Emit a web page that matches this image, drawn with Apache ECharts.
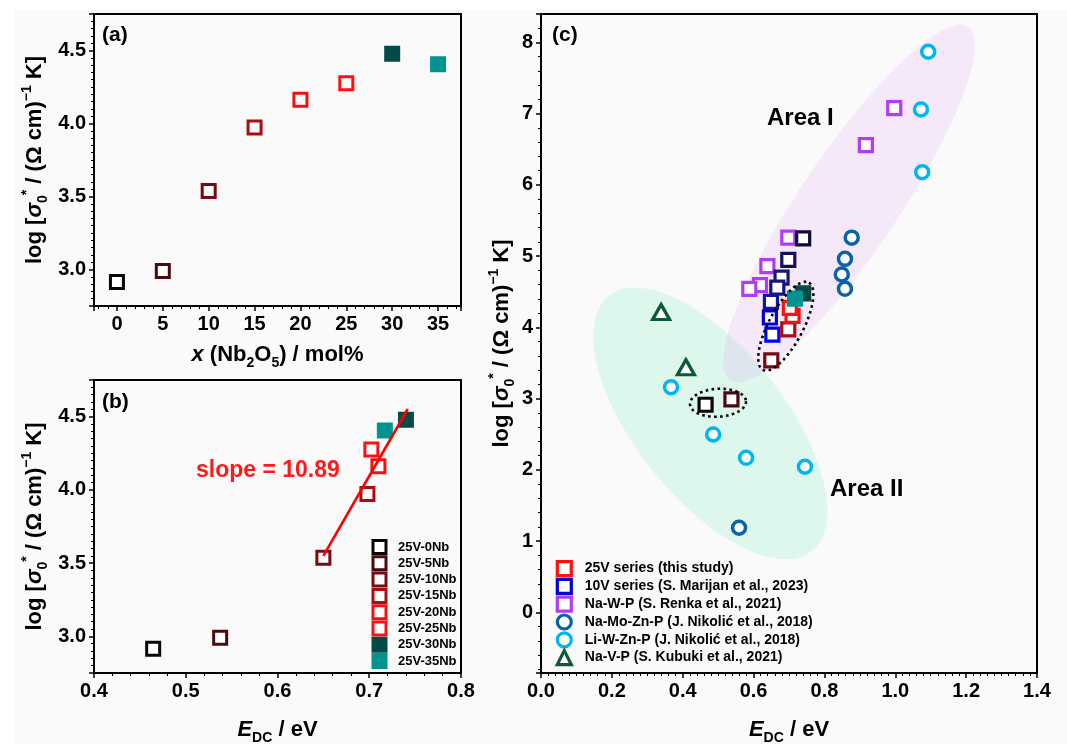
<!DOCTYPE html>
<html>
<head>
<meta charset="utf-8">
<script src="https://cdn.jsdelivr.net/npm/echarts@6/dist/echarts.min.js"></script>
<style>html,body{margin:0;padding:0;background:#fff}#chart{width:1067px;height:744px}</style>
</head>
<body>
<div id="chart"></div>
<script>
// ---------------- data ----------------
const sampleNames = ['25V-0Nb','25V-5Nb','25V-10Nb','25V-15Nb','25V-20Nb','25V-25Nb','25V-30Nb','25V-35Nb'];
const nb2o5 = [0, 5, 10, 15, 20, 25, 30, 35];
const logSigma25V = [2.915, 2.99, 3.537, 3.972, 4.162, 4.276, 4.478, 4.405];
const edc25V = [0.4645, 0.5375, 0.650, 0.698, 0.710, 0.7023, 0.740, 0.717];
const fitLine = [[0.650, 3.55], [0.742, 4.552]];

const edc10V = [0.740, 0.698, 0.679, 0.667, 0.649, 0.646, 0.653];
const logSigma10V = [5.25, 4.95, 4.70, 4.56, 4.36, 4.14, 3.90];

const edcNaWP = [0.997, 0.917, 0.698, 0.639, 0.618, 0.588];
const logSigmaNaWP = [7.08, 6.56, 5.26, 4.86, 4.594, 4.543];

const edcNaMoZnP = [0.877, 0.858, 0.849, 0.858, 0.559];
const logSigmaNaMoZnP = [5.26, 4.964, 4.744, 4.543, 1.189];

const edcLiWZnP = [1.093, 1.0725, 1.076, 0.367, 0.486, 0.579, 0.745];
const logSigmaLiWZnP = [7.87, 7.06, 6.18, 3.162, 2.498, 2.171, 2.045];

const edcNaVP = [0.339, 0.409];
const logSigmaNaVP = [4.217, 3.441];

// ellipses: [centerX, centerY, majorEndX, majorEndY, minorEndX, minorEndY] (data units)
const areaEllipses = [
  [0.4778, 2.653, 0.7643, 0.862, 0.3133, 2.001],   // Area II
  [0.8693, 5.740, 1.2055, 8.219, 0.9839, 5.356]    // Area I
];
const clusterEllipses = [
  [0.691, 4.018, 0.7563, 4.629, 0.7332, 3.897],
  [0.4996, 2.943, 0.5786, 2.964, 0.5016, 2.747]
];

const xTicksA = [0, 5, 10, 15, 20, 25, 30, 35];
const yTicksAB = [3.0, 3.5, 4.0, 4.5];
const xTicksB = [0.4, 0.5, 0.6, 0.7, 0.8];
const xTicksC = [0.0, 0.2, 0.4, 0.6, 0.8, 1.0, 1.2, 1.4];
const yTicksC = [0, 1, 2, 3, 4, 5, 6, 7, 8];

// ---------------- styles ----------------
const FONT = '"Liberation Sans", Arial, Helvetica, sans-serif';
const colors25V = ['#0a0606', '#4a0a0e', '#780a10', '#ad0c10', '#ee1212', '#ff1010', '#044a46', '#00938f'];
const filled25V = [false, false, false, false, false, false, true, true];
const colors10V = ['#0c0c38', '#12125c', '#18186e', '#151582', '#1414a0', '#0000d8', '#0000ff'];
const areaFills = ['rgba(120,235,190,0.22)', 'rgba(225,160,240,0.2)'];

function tickFmt(ticks, digits) {
  return function (v) {
    return ticks.some(t => Math.abs(t - v) < 1e-7) ? v.toFixed(digits) : '';
  };
}

const rich = {
  n: {fontFamily: FONT, fontWeight: 'bold', fontSize: 22, color: '#000', lineHeight: 30},
  i: {fontFamily: FONT, fontWeight: 'bold', fontStyle: 'italic', fontSize: 22, color: '#000', lineHeight: 30},
  sub: {fontFamily: FONT, fontWeight: 'bold', fontSize: 14, color: '#000', verticalAlign: 'bottom', lineHeight: 16},
  sup: {fontFamily: FONT, fontWeight: 'bold', fontSize: 14, color: '#000', verticalAlign: 'top', lineHeight: 16}
};
const yName = '{n|log [}{i|σ}{sub|0}{sup|*}{n| / (Ω cm)}{sup|−1}{n| K]}';
const xNameA = '{i|x}{n| (Nb}{sub|2}{n|O}{sub|5}{n|) / mol%}';
const xNameE = '{i|E}{sub|DC}{n| / eV}';

function minor(n) {
  return {show: true, splitNumber: n, length: 3, lineStyle: {color: '#000', width: 1}};
}
function axis(o) {
  return Object.assign({
    type: 'value',
    nameLocation: 'middle',
    nameTextStyle: {rich: rich},
    axisLine: {show: true, onZero: false, lineStyle: {color: '#000', width: 2}},
    axisTick: {show: true, inside: false, length: 5, lineStyle: {color: '#000', width: 1.5}},
    splitLine: {show: false},
    minorSplitLine: {show: false}
  }, o);
}
function labelStyle(fmt) {
  return {color: '#000', fontFamily: FONT, fontWeight: 'bold', fontSize: 20, margin: 8, formatter: fmt};
}

function ellipseRender(dotted) {
  return function (params, api) {
    const c = api.coord([api.value(0), api.value(1)]);
    const p = api.coord([api.value(2), api.value(3)]);
    const q = api.coord([api.value(4), api.value(5)]);
    const ax = p[0] - c[0], ay = p[1] - c[1], bx = q[0] - c[0], by = q[1] - c[1];
    const pts = [];
    const N = 240;
    for (let k = 0; k < N; k++) {
      const t = k / N * 2 * Math.PI;
      pts.push([c[0] + ax * Math.cos(t) + bx * Math.sin(t), c[1] + ay * Math.cos(t) + by * Math.sin(t)]);
    }
    return {
      type: 'polygon',
      shape: {points: pts},
      style: dotted
        ? {fill: 'none', stroke: '#000', lineWidth: 2.6, lineDash: [2.6, 3.4]}
        : {fill: areaFills[params.dataIndex], stroke: 'none'}
    };
  };
}

function xy(xs, ys) { return xs.map((x, i) => [x, ys[i]]); }
function sq(color, filled, bw) {
  return {color: filled ? color : '#fff', borderColor: color, borderWidth: bw, opacity: 1};
}

const series = [];

// panel (a)
series.push({
  type: 'scatter', name: 'a-series', xAxisIndex: 0, yAxisIndex: 0,
  symbol: 'rect', symbolSize: 13,
  data: nb2o5.map((x, i) => ({value: [x, logSigma25V[i]], itemStyle: sq(colors25V[i], filled25V[i], 3)}))
});

// panel (b)
sampleNames.forEach((nm, i) => {
  series.push({
    type: 'scatter', name: nm, xAxisIndex: 1, yAxisIndex: 1,
    symbol: 'rect', symbolSize: 13,
    itemStyle: sq(colors25V[i], filled25V[i], 3),
    data: [[edc25V[i], logSigma25V[i]]]
  });
});
series.push({
  type: 'line', name: 'fit', xAxisIndex: 1, yAxisIndex: 1,
  showSymbol: false, symbol: 'none', z: 4,
  lineStyle: {color: '#ff0000', width: 2.6},
  data: fitLine
});

// panel (c)
series.push({
  type: 'custom', name: 'areas', xAxisIndex: 2, yAxisIndex: 2, z: 1,
  renderItem: ellipseRender(false), data: areaEllipses, silent: true
});
series.push({
  type: 'scatter', name: 'Na-V-P (S. Kubuki et al., 2021)', xAxisIndex: 2, yAxisIndex: 2,
  symbol: 'triangle', symbolSize: [17, 15],
  itemStyle: {color: '#fff', borderColor: '#0b5a36', borderWidth: 3.2, opacity: 1},
  data: xy(edcNaVP, logSigmaNaVP)
});
series.push({
  type: 'scatter', name: 'Li-W-Zn-P (J. Nikolić et al., 2018)', xAxisIndex: 2, yAxisIndex: 2,
  symbol: 'circle', symbolSize: 13,
  itemStyle: {color: '#fff', borderColor: '#00b6f2', borderWidth: 3.5, opacity: 1},
  data: xy(edcLiWZnP, logSigmaLiWZnP)
});
series.push({
  type: 'scatter', name: 'Na-Mo-Zn-P (J. Nikolić et al., 2018)', xAxisIndex: 2, yAxisIndex: 2,
  symbol: 'circle', symbolSize: 13,
  itemStyle: {color: '#fff', borderColor: '#0a62a8', borderWidth: 3.5, opacity: 1},
  data: xy(edcNaMoZnP, logSigmaNaMoZnP)
});
series.push({
  type: 'scatter', name: 'Na-W-P (S. Renka et al., 2021)', xAxisIndex: 2, yAxisIndex: 2,
  symbol: 'rect', symbolSize: 13,
  itemStyle: sq('#b23cf2', false, 3.2),
  data: xy(edcNaWP, logSigmaNaWP)
});
series.push({
  type: 'scatter', name: '10V series (S. Marijan et al., 2023)', xAxisIndex: 2, yAxisIndex: 2,
  symbol: 'rect', symbolSize: 13,
  itemStyle: sq('#0000d8', false, 3.2),
  data: edc10V.map((x, i) => ({value: [x, logSigma10V[i]], itemStyle: sq(colors10V[i], false, 3.2)}))
});
series.push({
  type: 'scatter', name: '25V series (this study)', xAxisIndex: 2, yAxisIndex: 2,
  symbol: 'rect', symbolSize: 13,
  itemStyle: sq('#ff1010', false, 3.2),
  data: edc25V.map((x, i) => ({value: [x, logSigma25V[i]], itemStyle: sq(colors25V[i], filled25V[i], 3.2)}))
});
series.push({
  type: 'custom', name: 'clusters', xAxisIndex: 2, yAxisIndex: 2, z: 6,
  renderItem: ellipseRender(true), data: clusterEllipses, silent: true
});

const legendText = {fontFamily: FONT, fontWeight: 'bold', color: '#000'};
const gridBase = {show: true, borderColor: '#000', borderWidth: 2, backgroundColor: 'transparent', containLabel: false, outerBoundsMode: 'none'};

const option = {
  animation: false,
  backgroundColor: '#fafafa',
  grid: [
    Object.assign({left: 94, top: 14, width: 367, height: 292}, gridBase),
    Object.assign({left: 94, top: 380, width: 367, height: 293}, gridBase),
    Object.assign({left: 541, top: 14, width: 496, height: 659}, gridBase)
  ],
  xAxis: [
    axis({gridIndex: 0, min: -2.5, max: 37.5, splitNumber: 8, minorTick: minor(5),
      name: xNameA, nameGap: 34, axisLabel: labelStyle(tickFmt(xTicksA, 0))}),
    axis({gridIndex: 1, min: 0.4, max: 0.8, interval: 0.1, minorTick: minor(5),
      name: xNameE, nameGap: 42, axisLabel: labelStyle(tickFmt(xTicksB, 1))}),
    axis({gridIndex: 2, min: 0, max: 1.4, interval: 0.2, minorTick: minor(10),
      name: xNameE, nameGap: 42, axisLabel: labelStyle(tickFmt(xTicksC, 1))})
  ],
  yAxis: [
    axis({gridIndex: 0, min: 2.75, max: 4.75, splitNumber: 4, minorTick: minor(10),
      name: yName, nameRotate: 90, nameGap: 44, axisLabel: labelStyle(tickFmt(yTicksAB, 1))}),
    axis({gridIndex: 1, min: 2.75, max: 4.75, splitNumber: 4, minorTick: minor(10),
      name: yName, nameRotate: 90, nameGap: 44, axisLabel: labelStyle(tickFmt(yTicksAB, 1))}),
    axis({gridIndex: 2, min: -0.85, max: 8.4, splitNumber: 9, minorTick: minor(5),
      name: yName, nameRotate: 90, nameGap: 24, axisLabel: labelStyle(tickFmt(yTicksC, 0))})
  ],
  legend: [
    {
      data: sampleNames, orient: 'vertical', left: 371.5, top: 539, padding: 0,
      itemWidth: 13, itemHeight: 13, itemGap: 0.3, selectedMode: false,
      itemStyle: {borderWidth: 3},
      textStyle: Object.assign({fontSize: 13, lineHeight: 13, padding: [0, 0, 0, 7]}, legendText)
    },
    {
      data: ['25V series (this study)', '10V series (S. Marijan et al., 2023)', 'Na-W-P (S. Renka et al., 2021)',
             'Na-Mo-Zn-P (J. Nikolić et al., 2018)', 'Li-W-Zn-P (J. Nikolić et al., 2018)', 'Na-V-P (S. Kubuki et al., 2021)'],
      orient: 'vertical', left: 555.7, top: 560, padding: 0,
      itemWidth: 14, itemHeight: 14, itemGap: 0.6, selectedMode: false,
      itemStyle: {borderWidth: 3.2},
      textStyle: Object.assign({fontSize: 14, lineHeight: 14, padding: [0, 0, 0, 8.5]}, legendText)
    }
  ],
  graphic: [
    {type: 'rect', shape: {x: 0, y: 0, width: 1067, height: 10}, style: {fill: '#fff'}, z: -10, silent: true},
    {type: 'rect', shape: {x: 0, y: 0, width: 14, height: 744}, style: {fill: '#fff'}, z: -10, silent: true},
    {type: 'text', x: 102, y: 35, style: {text: '(a)', fill: '#000', font: 'bold 21px ' + FONT, textVerticalAlign: 'middle', verticalAlign: 'middle'}},
    {type: 'text', x: 102, y: 402, style: {text: '(b)', fill: '#000', font: 'bold 21px ' + FONT, textVerticalAlign: 'middle', verticalAlign: 'middle'}},
    {type: 'text', x: 552, y: 35, style: {text: '(c)', fill: '#000', font: 'bold 21px ' + FONT, textVerticalAlign: 'middle', verticalAlign: 'middle'}},
    {type: 'text', x: 196, y: 471, style: {text: 'slope = 10.89', fill: '#ff1a1a', font: 'bold 23px ' + FONT, textVerticalAlign: 'middle', verticalAlign: 'middle'}},
    {type: 'text', x: 767, y: 118, style: {text: 'Area I', fill: '#000', font: 'bold 24px ' + FONT, textVerticalAlign: 'middle', verticalAlign: 'middle'}},
    {type: 'text', x: 830, y: 489, style: {text: 'Area II', fill: '#000', font: 'bold 24px ' + FONT, textVerticalAlign: 'middle', verticalAlign: 'middle'}}
  ],
  series: series
};

const chart = echarts.init(document.getElementById('chart'), null, {renderer: 'canvas'});
chart.setOption(option);
</script>
</body>
</html>
